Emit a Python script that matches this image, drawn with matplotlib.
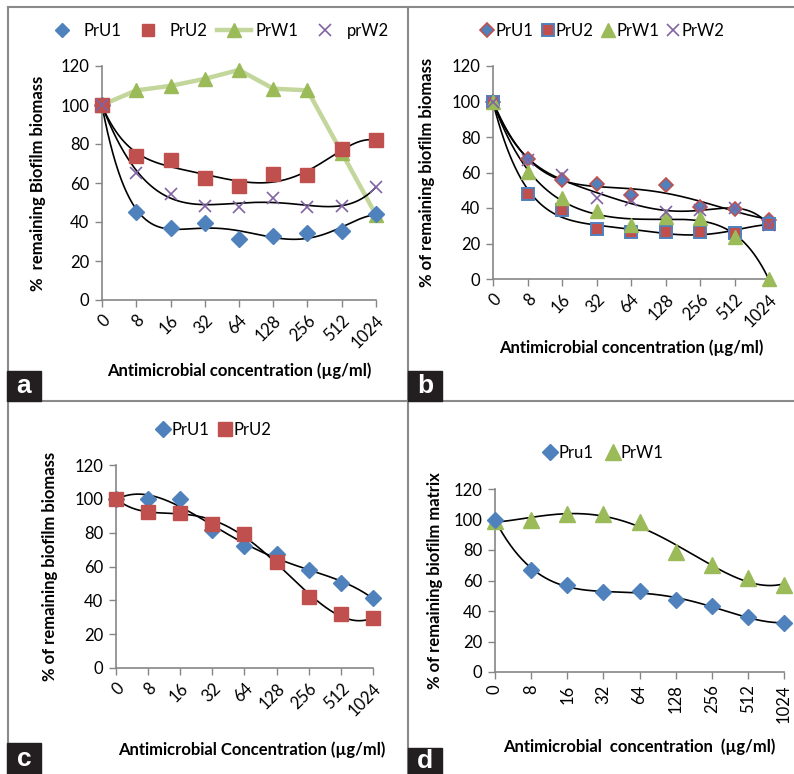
import numpy as np
import matplotlib
matplotlib.use("Agg")
import matplotlib.pyplot as plt
from matplotlib.lines import Line2D
from matplotlib.patches import Rectangle

plt.rcParams['font.family'] = ['Lato', 'DejaVu Sans']

# ---------------- data ----------------
conc_labels = ['0', '8', '16', '32', '64', '128', '256', '512', '1024']

a_PrU1 = [100, 45.3, 37.0, 39.6, 31.3, 32.6, 34.5, 35.2, 44.2]
a_PrU2 = [100, 73.6, 72.0, 62.5, 58.6, 64.5, 64.0, 77.3, 81.8]
a_PrW1 = [100, 107.5, 109.8, 113.4, 118.0, 108.4, 107.5, 75.6, 43.6]
a_prW2 = [100, 65.2, 54.3, 48.3, 47.8, 52.2, 47.8, 48.3, 58.0]

b_PrU1 = [100, 67.8, 55.6, 53.5, 47.1, 53.1, 40.5, 39.4, 33.5]
b_PrU2 = [100, 48.1, 39.0, 28.4, 26.5, 26.5, 26.3, 26.1, 31.0]
b_PrW1 = [100, 60.3, 45.4, 38.1, 30.2, 34.9, 34.5, 23.7, 0.0]
b_PrW2 = [100, 67.2, 58.4, 45.6, 44.7, 37.7, 39.0, 39.8, 30.5]

c_PrU1 = [100, 99.9, 100.0, 81.4, 71.9, 67.6, 58.1, 50.2, 41.4]
c_PrU2 = [100, 92.4, 91.8, 85.3, 79.4, 62.5, 41.8, 31.9, 29.4]

d_Pru1 = [100, 67.0, 57.2, 52.3, 52.8, 47.1, 43.6, 35.9, 32.2]
d_PrW1 = [99.0, 99.6, 103.8, 103.6, 98.1, 78.4, 70.3, 61.5, 56.9]

BLUE = '#4F81BD'
RED = '#C0504D'
GREEN = '#9BBB59'
PURPLE = '#8064A2'
LGREEN = '#C3D69B'
AXC = '#868686'

W, H = 794, 774
fig = plt.figure(figsize=(W / 100, H / 100), dpi=100)

TICK_FS = 12
TITLE_FS = 12
LEG_FS = 12


def px_axes(x0, x1, ytop, ybot):
    return fig.add_axes([x0 / W, 1 - ybot / H, (x1 - x0) / W, (ybot - ytop) / H])


def trend(ax, vals, deg):
    xi = np.arange(1, len(vals) + 1)
    p = np.polyfit(xi, vals, deg)
    xs = np.linspace(1, len(vals), 300)
    ax.plot(xs - 1, np.polyval(p, xs), color='black', lw=1.2, zorder=4, clip_on=False)


def style_axes(ax, rot=45):
    n = len(conc_labels)
    ax.set_xlim(0, n - 1)
    ax.set_ylim(0, 120)
    ax.set_yticks(np.arange(0, 121, 20))
    ax.set_xticks(np.arange(n))
    if rot == 45:
        ax.set_xticklabels(conc_labels, rotation=45, ha='right', va='top',
                           rotation_mode='anchor', fontsize=TICK_FS)
    else:
        ax.set_xticklabels(conc_labels, rotation=90, ha='center', va='top', fontsize=TICK_FS)
    ax.tick_params(axis='y', labelsize=TICK_FS, colors='black', length=5, width=1, color=AXC, pad=4)
    ax.tick_params(axis='x', length=5, width=1, color=AXC, pad=4)
    for s in ['top', 'right']:
        ax.spines[s].set_visible(False)
    for s in ['left', 'bottom']:
        ax.spines[s].set_color(AXC)
        ax.spines[s].set_linewidth(1.2)
    ax.patch.set_alpha(0)


def titles(ax, ylab, xlab, ycoord, xcoord):
    ax.set_ylabel(ylab, fontsize=TITLE_FS, fontweight='bold')
    ax.yaxis.set_label_coords(ycoord, 0.5)
    ax.set_xlabel(xlab, fontsize=TITLE_FS, fontweight='bold')
    ax.xaxis.set_label_coords(0.5, xcoord)


x = np.arange(len(conc_labels))

# ---------------- panel a ----------------
axa = px_axes(102, 376, 66, 300)
style_axes(axa)
axa.plot(x, a_PrW1, color=LGREEN, lw=3.2, marker='^', ms=10, mfc=GREEN, mec=GREEN,
         zorder=3, clip_on=False)
axa.plot(x, a_PrU1, ls='none', marker='D', ms=8, color=BLUE, zorder=5, clip_on=False)
axa.plot(x, a_PrU2, ls='none', marker='s', ms=10, color=RED, zorder=5, clip_on=False)
axa.plot(x, a_prW2, ls='none', marker='x', ms=9, mew=1.2, color=PURPLE, zorder=5, clip_on=False)
for v in (a_PrU1, a_PrU2, a_prW2):
    trend(axa, v, 5)
titles(axa, '%  remaining Biofilm biomass', 'Antimicrobial concentration (µg/ml)', -0.205, -0.265)
ha = [Line2D([], [], ls='none', marker='D', ms=7, color=BLUE),
      Line2D([], [], ls='none', marker='s', ms=9, color=RED),
      Line2D([], [], color=LGREEN, lw=3.2, marker='^', ms=10, mfc=GREEN, mec=GREEN),
      Line2D([], [], ls='none', marker='x', ms=9, mew=1.2, color=PURPLE)]
fig.legend(ha, ['PrU1', 'PrU2', 'PrW1', 'prW2'], loc='center', ncol=4,
           bbox_to_anchor=(217 / W, 1 - 31 / H), frameon=False, fontsize=LEG_FS,
           handlelength=2.0, columnspacing=0.6, handletextpad=0.3)

# ---------------- panel b ----------------
axb = px_axes(493, 769, 66, 279)
style_axes(axb)
axb.plot(x, b_PrU1, ls='none', marker='D', ms=7.5, mfc=BLUE, mec=RED, mew=1.2, zorder=5, clip_on=False)
axb.plot(x, b_PrU2, ls='none', marker='s', ms=9, mfc=RED, mec=BLUE, mew=1.4, zorder=5, clip_on=False)
axb.plot(x, b_PrW1, ls='none', marker='^', ms=10, color=GREEN, zorder=5, clip_on=False)
axb.plot(x, b_PrW2, ls='none', marker='x', ms=9, mew=1.2, color=PURPLE, zorder=6, clip_on=False)
for v in (b_PrU1, b_PrU2, b_PrW1, b_PrW2):
    trend(axb, v, 5)
titles(axb, '% of remaining biofilm biomass', 'Antimicrobial concentration (µg/ml)', -0.21, -0.285)
hb = [Line2D([], [], ls='none', marker='D', ms=7, mfc=BLUE, mec=RED, mew=1.2),
      Line2D([], [], ls='none', marker='s', ms=9, mfc=RED, mec=BLUE, mew=1.4),
      Line2D([], [], ls='none', marker='^', ms=10, color=GREEN),
      Line2D([], [], ls='none', marker='x', ms=9, mew=1.2, color=PURPLE)]
fig.legend(hb, ['PrU1', 'PrU2', 'PrW1', 'PrW2'], loc='center', ncol=4,
           bbox_to_anchor=(603 / W, 1 - 31 / H), frameon=False, fontsize=LEG_FS,
           handlelength=0.7, columnspacing=0.5, handletextpad=0.15)

# ---------------- panel c ----------------
axc = px_axes(116, 373, 465, 668)
style_axes(axc)
axc.plot(x, c_PrU1, ls='none', marker='D', ms=8, color=BLUE, zorder=5, clip_on=False)
axc.plot(x, c_PrU2, ls='none', marker='s', ms=10, color=RED, zorder=5, clip_on=False)
trend(axc, c_PrU1, 4)
trend(axc, c_PrU2, 5)
titles(axc, '% of remaining biofilm biomass', 'Antimicrobial Concentration (µg/ml)', -0.225, -0.36)
axc.xaxis.set_label_coords(0.53, -0.36)
hc = [Line2D([], [], ls='none', marker='D', ms=8, color=BLUE),
      Line2D([], [], ls='none', marker='s', ms=10, color=RED)]
fig.legend(hc, ['PrU1', 'PrU2'], loc='center', ncol=2,
           bbox_to_anchor=(214 / W, 1 - 430 / H), frameon=False, fontsize=LEG_FS,
           handlelength=0.7, columnspacing=0.6, handletextpad=0.15)

# ---------------- panel d ----------------
axd = px_axes(495, 784, 489, 672)
style_axes(axd, rot=90)
axd.plot(x, d_PrW1, ls='none', marker='^', ms=11, color=GREEN, zorder=5, clip_on=False)
axd.plot(x, d_Pru1, ls='none', marker='D', ms=8, color=BLUE, zorder=5, clip_on=False)
for v in (d_Pru1, d_PrW1):
    trend(axd, v, 4)
titles(axd, '% of remaining biofilm matrix', 'Antimicrobial  concentration  (µg/ml)', -0.18, -0.365)
hd = [Line2D([], [], ls='none', marker='D', ms=8, color=BLUE),
      Line2D([], [], ls='none', marker='^', ms=11, color=GREEN)]
fig.legend(hd, ['Pru1', 'PrW1'], loc='center', ncol=2,
           bbox_to_anchor=(604 / W, 1 - 453 / H), frameon=False, fontsize=LEG_FS,
           handlelength=0.7, columnspacing=0.8, handletextpad=0.15)

# ---------------- frame and panel letters ----------------
FR = '#8a8a8a'
def fline(x0, y0, x1, y1):
    fig.add_artist(Line2D([x0 / W, x1 / W], [1 - y0 / H, 1 - y1 / H], color=FR, lw=1.5))

fline(8, 7, 794, 7)
fline(8, 7, 8, 774)
fline(408, 7, 408, 774)
fline(8, 401, 794, 401)

for lab, (bx, by0, by1) in {'a': (7, 371, 401), 'b': (408, 371, 401),
                            'c': (7, 743, 774), 'd': (408, 748, 774)}.items():
    fig.add_artist(Rectangle((bx / W, 1 - by1 / H), 34 / W, (by1 - by0) / H,
                             transform=fig.transFigure, color='#231F20', zorder=10))
    fig.text((bx + 17) / W, 1 - (by0 + by1) / 2 / H, lab, color='white', fontsize=19,
             fontweight='bold', ha='center', va='center', family='Liberation Sans', zorder=11)

fig.savefig('out.png', dpi=100)
